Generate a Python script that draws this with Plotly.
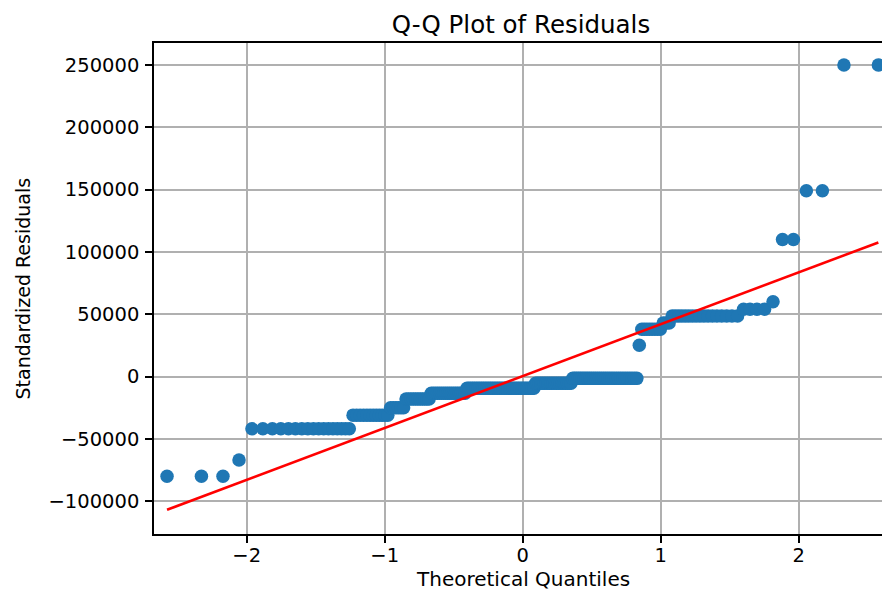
import plotly.graph_objects as go
from statistics import NormalDist
import numpy as np

residual_levels = [-80000, -67000, -42000, -31000, -25000, -18000, -13500, -9500,
                   -5500, -1500, 25000, 38000, 43000, 48500, 54000, 60000,
                   110000, 149000, 250000]
residual_counts = [3, 1, 17, 12, 6, 11, 18, 39, 21, 32, 1, 8, 3, 17, 4, 1, 2, 2, 2]

x_tick_vals = [-2, -1, 0, 1, 2]
y_tick_vals = [-100000, -50000, 0, 50000, 100000, 150000, 200000, 250000]

# sample residuals (sorted)
sample = np.repeat(residual_levels, residual_counts).astype(float)
n = len(sample)
# theoretical quantiles (plotting positions i/(n+1))
nd = NormalDist()
theo = np.array([nd.inv_cdf(i / (n + 1)) for i in range(1, n + 1)])

# standardized reference line ('s'): mean + std * quantile
slope = np.std(sample)
intercept = np.mean(sample)
line_x = [theo[0], theo[-1]]
line_y = [intercept + slope * v for v in line_x]

def fmt(v):
    return str(v).replace("-", "\u2212")

W, H = 882, 590
L, R, T, B = 154, 0, 43, 56

fig = go.Figure()
fig.add_trace(go.Scatter(
    x=theo, y=sample, mode="markers",
    marker=dict(color="#1f77b4", size=13.5, line=dict(width=0)),
    showlegend=False,
))
fig.add_trace(go.Scatter(
    x=line_x, y=line_y, mode="lines",
    line=dict(color="red", width=2.6),
    showlegend=False,
))

font_family = "DejaVu Sans"
fig.update_layout(
    width=W, height=H,
    margin=dict(l=L, r=R, t=T, b=B, pad=0, autoexpand=False),
    paper_bgcolor="white", plot_bgcolor="white",
    font=dict(family=font_family, color="black", size=20),
    title=dict(text="Q-Q Plot of Residuals", font=dict(size=24.5, family=font_family, color="black"),
               x=521 / W, xanchor="center", xref="container",
               y=1 - 24 / H, yanchor="middle", yref="container", automargin=False),
    annotations=[
        dict(text="Theoretical Quantiles", xref="paper", yref="paper",
             x=(522.5 - L) / (W - L - R), y=(H - B - 579) / (H - T - B),
             xanchor="center", yanchor="middle", showarrow=False,
             font=dict(size=20, family=font_family, color="black")),
        dict(text="Standardized Residuals", xref="paper", yref="paper",
             x=(22 - L) / (W - L - R), y=0.5, textangle=-90,
             xanchor="center", yanchor="middle", showarrow=False,
             font=dict(size=19, family=font_family, color="black")),
    ],
)
fig.update_xaxes(
    range=[-2.672, 2.604], automargin=False,
    tickvals=x_tick_vals, ticktext=[fmt(v) for v in x_tick_vals],
    showgrid=True, gridcolor="#b0b0b0", gridwidth=1.5,
    showline=True, linecolor="black", linewidth=1.6, mirror=True,
    ticks="outside", ticklen=7, tickwidth=1.5, tickcolor="black",
    tickfont=dict(size=19.5, family=font_family, color="black"),
    ticklabelstandoff=-4,
    zeroline=False,
)
fig.update_yaxes(
    range=[-126400, 267650], automargin=False,
    tickvals=y_tick_vals, ticktext=[fmt(v) for v in y_tick_vals],
    showgrid=True, gridcolor="#b0b0b0", gridwidth=1.5,
    showline=True, linecolor="black", linewidth=1.6, mirror=False,
    ticks="outside", ticklen=7, tickwidth=1.5, tickcolor="black",
    tickfont=dict(size=19.5, family=font_family, color="black"),
    ticklabelstandoff=2,
    zeroline=False,
)

fig.write_html(
    "out.html",
    config={"displayModeBar": False},
    post_script="document.body.style.margin='0';document.body.style.overflow='hidden';",
)
